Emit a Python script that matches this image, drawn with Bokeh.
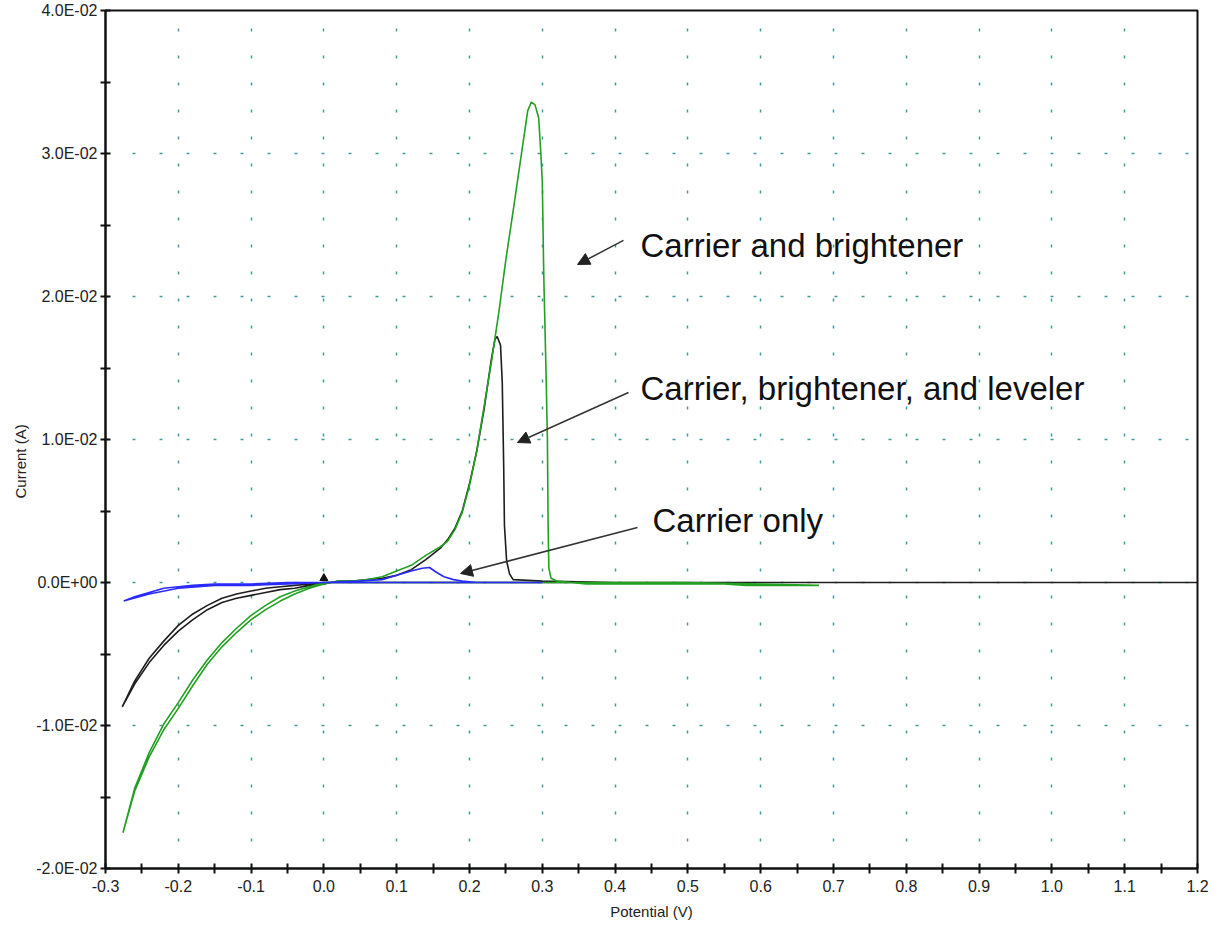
from bokeh.plotting import figure
from bokeh.models import FixedTicker, Label, Arrow, NormalHead, Range1d, Title
from bokeh.embed import file_html
from bokeh.resources import INLINE

# ---------------- data ----------------
x_ticks = [-0.3, -0.2, -0.1, 0.0, 0.1, 0.2, 0.3, 0.4, 0.5, 0.6, 0.7, 0.8, 0.9, 1.0, 1.1, 1.2]
x_tick_labels = ["-0.3", "-0.2", "-0.1", "0.0", "0.1", "0.2", "0.3", "0.4", "0.5", "0.6",
                 "0.7", "0.8", "0.9", "1.0", "1.1", "1.2"]
y_ticks = [-0.02, -0.01, 0.0, 0.01, 0.02, 0.03, 0.04]
y_tick_labels = ["-2.0E-02", "-1.0E-02", "0.0E+00", "1.0E-02", "2.0E-02", "3.0E-02", "4.0E-02"]

# Carrier and brightener (green) : forward sweep then reverse sweep
green_v = [-0.276, -0.26, -0.24, -0.22, -0.20, -0.18, -0.16, -0.14, -0.12, -0.10, -0.08, -0.06,
           -0.04, -0.02, 0.00, 0.02, 0.04, 0.06, 0.08, 0.10, 0.12, 0.14, 0.16, 0.17, 0.18, 0.19,
           0.20, 0.21, 0.22, 0.23, 0.24, 0.25, 0.26, 0.27, 0.28, 0.285, 0.29, 0.295, 0.298, 0.300,
           0.302, 0.305, 0.307, 0.308, 0.309, 0.312, 0.32, 0.36, 0.45, 0.55, 0.58, 0.68,
           0.60, 0.50, 0.35, 0.20, 0.10, 0.05, 0.02, 0.00, -0.02, -0.04, -0.06, -0.08, -0.10,
           -0.12, -0.14, -0.16, -0.18, -0.20, -0.22, -0.24, -0.26, -0.276]
green_i = [-0.0175, -0.0146, -0.0122, -0.0103, -0.0088, -0.0072, -0.0057, -0.0045, -0.0035,
           -0.0026, -0.0019, -0.0013, -0.0008, -0.0004, -0.0001, 0.0001, 0.0001, 0.0002, 0.0004,
           0.0008, 0.0012, 0.0019, 0.0025, 0.0029, 0.0037, 0.0049, 0.0068, 0.0092, 0.0123, 0.0154,
           0.0188, 0.0226, 0.0260, 0.0295, 0.0330, 0.0336, 0.0334, 0.0325, 0.0300, 0.0280, 0.0215,
           0.0150, 0.0100, 0.0040, 0.0010, 0.0003, 0.0001, -0.0001, -0.0001, -0.0001, -0.0002,
           -0.0002,
           -0.0001, 0.0, 0.0, 0.0, 0.0, 0.0, 0.0, 0.0, -0.0003, -0.0006, -0.0010, -0.0016, -0.0023,
           -0.0032, -0.0042, -0.0054, -0.0068, -0.0084, -0.0099, -0.0119, -0.0144, -0.0175]

# Carrier, brightener, and leveler (black)
black_v = [-0.277, -0.26, -0.24, -0.22, -0.20, -0.18, -0.16, -0.14, -0.12, -0.10, -0.08, -0.06,
           -0.04, -0.02, 0.00, 0.02, 0.04, 0.06, 0.08, 0.10, 0.12, 0.14, 0.16, 0.17, 0.18, 0.19,
           0.20, 0.21, 0.22, 0.23, 0.235, 0.238, 0.2426, 0.245, 0.247, 0.248, 0.251, 0.255, 0.26,
           0.30, 0.40, 0.80, 1.20,
           0.60, 0.10, 0.00, -0.02, -0.04, -0.06, -0.08, -0.10, -0.12, -0.14, -0.16, -0.18, -0.20,
           -0.22, -0.24, -0.26, -0.277]
black_i = [-0.0087, -0.0071, -0.0056, -0.0044, -0.0034, -0.0026, -0.0019, -0.0014, -0.0011,
           -0.0009, -0.0007, -0.0005, -0.0004, -0.0002, -0.0001, 0.0001, 0.0001, 0.0002, 0.0003,
           0.0005, 0.0009, 0.0016, 0.0024, 0.0030, 0.0038, 0.0050, 0.0069, 0.0092, 0.0121, 0.0156,
           0.0170, 0.0172, 0.0166, 0.0140, 0.0080, 0.0040, 0.0015, 0.0006, 0.0002, 0.0001, 0.0,
           0.0, 0.0,
           0.0, 0.0, 0.0, -0.0001, -0.0002, -0.0003, -0.0004, -0.0006, -0.0008, -0.0011, -0.0016,
           -0.0022, -0.0030, -0.0041, -0.0053, -0.0069, -0.0087]

# Carrier only (blue)
blue_v = [-0.275, -0.26, -0.24, -0.22, -0.20, -0.18, -0.15, -0.10, -0.05, 0.00, 0.05, 0.08,
          0.10, 0.12, 0.135, 0.145, 0.155, 0.165, 0.178, 0.19, 0.21, 0.30,
          0.00, -0.05, -0.10, -0.15, -0.20, -0.24, -0.275]
blue_i = [-0.0013, -0.0010, -0.0007, -0.0004, -0.0003, -0.0002, -0.0001, -0.0001, 0.0, 0.0,
          0.0001, 0.0002, 0.0005, 0.0008, 0.0010, 0.00105, 0.0007, 0.0004, 0.0002, 0.0001, 0.0,
          0.0,
          0.0, -0.0001, -0.0002, -0.0002, -0.0004, -0.0008, -0.0013]

marker_v = [0.0]
marker_i = [0.0003]

ann_texts = ["Carrier and brightener", "Carrier, brightener, and leveler", "Carrier only"]
ann_text_x = [0.4349, 0.4349, 0.4514]
ann_text_y = [0.02357, 0.01357, 0.00434]
arrow_x0 = [0.4115, 0.4184, 0.4308]
arrow_y0 = [0.02392, 0.01329, 0.00385]
arrow_x1 = [0.3484, 0.2659, 0.1876]
arrow_y1 = [0.02224, 0.00979, 0.00063]

# ---------------- figure ----------------
FONT = "Liberation Sans"
p = figure(width=1209, height=926, output_backend="svg", toolbar_location=None,
           x_range=Range1d(-0.3, 1.2), y_range=Range1d(-0.02, 0.04),
           min_border_left=105, min_border_right=12, min_border_top=10, min_border_bottom=58)
p.background_fill_color = "white"
p.border_fill_color = "white"
p.outline_line_color = "#111111"
p.outline_line_width = 2

x_minor = [round(-0.25 + 0.1 * k, 3) for k in range(15)]
y_minor = [round(-0.015 + 0.01 * k, 3) for k in range(6)]
p.xaxis.ticker = FixedTicker(ticks=x_ticks, minor_ticks=x_minor)
p.yaxis.ticker = FixedTicker(ticks=y_ticks, minor_ticks=y_minor)
p.xaxis.major_label_overrides = dict(zip(x_ticks, x_tick_labels))
p.yaxis.major_label_overrides = dict(zip(y_ticks, y_tick_labels))

for ax in (p.xaxis[0], p.yaxis[0]):
    ax.axis_line_color = "#111111"
    ax.axis_line_width = 2
    ax.major_tick_line_color = "#111111"
    ax.minor_tick_line_color = "#111111"
    ax.major_tick_line_width = 2
    ax.minor_tick_line_width = 2
    ax.major_tick_in = 5
    ax.major_tick_out = 5
    ax.minor_tick_in = 5
    ax.minor_tick_out = 5
    ax.major_label_text_font = FONT
    ax.major_label_text_font_size = "16px"
    ax.major_label_text_color = "#222222"
    ax.axis_label_text_font = FONT
    ax.axis_label_text_font_size = "15px"
    ax.axis_label_text_font_style = "normal"
    ax.axis_label_text_color = "#222222"

p.xaxis.major_label_standoff = 6
p.yaxis.major_label_standoff = 3
p.xaxis.axis_label = "Potential (V)"
p.xaxis.axis_label_standoff = 8

for g in (p.xgrid[0], p.ygrid[0]):
    g.grid_line_color = "#3f9c9a"
    g.grid_line_width = 1.5
    g.grid_line_dash = "3 24"

# y axis title, slightly below centre as in the reference
p.add_layout(Title(text="Current (A)", align="left", offset=370, standoff=10,
                   text_font=FONT, text_font_size="15px", text_font_style="normal",
                   text_color="#222222"), "left")

# curves
p.line(black_v, black_i, line_color="#1e1e1e", line_width=1.6)
p.line(green_v, green_i, line_color="#23a023", line_width=1.6)
p.line(blue_v, blue_i, line_color="#2a2aff", line_width=1.6)
p.scatter(marker_v, marker_i, marker="triangle", size=8, color="#111111")

# annotations
for t, tx, ty in zip(ann_texts, ann_text_x, ann_text_y):
    p.add_layout(Label(x=tx, y=ty, text=t, text_font=FONT, text_font_size="33px",
                       text_baseline="middle", text_align="left", text_color="#111111"))
for xa, ya, xb, yb in zip(arrow_x0, arrow_y0, arrow_x1, arrow_y1):
    p.add_layout(Arrow(end=NormalHead(size=12, fill_color="#222222", line_color="#222222"),
                       x_start=xa, y_start=ya, x_end=xb, y_end=yb,
                       line_color="#333333", line_width=1.5))

open("out.html", "w").write(file_html(p, INLINE))
